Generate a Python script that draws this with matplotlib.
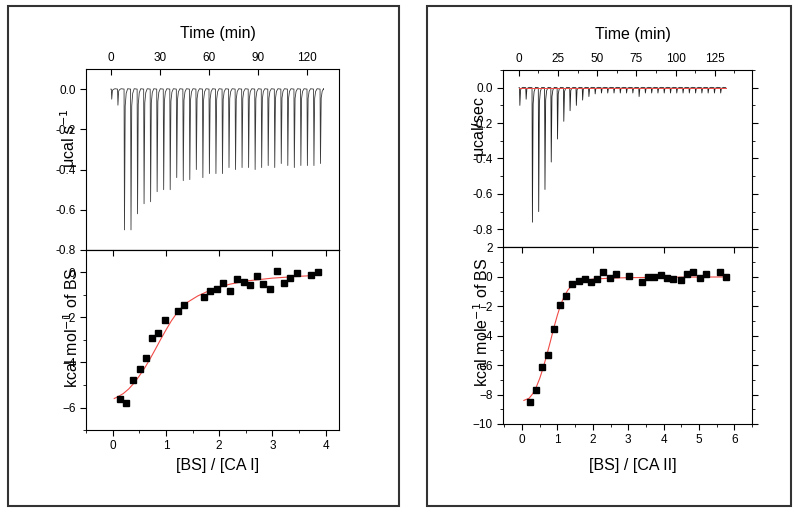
#ITC raw heats (top) and integrated heats with fit (bottom) for CA I and CA II
import numpy as np
import matplotlib
matplotlib.use("Agg")
import matplotlib.pyplot as plt
from matplotlib.patches import Rectangle
from matplotlib.ticker import MultipleLocator

plt.rcParams['font.family'] = ['Liberation Sans', 'DejaVu Sans']

#Raw thermogram, CA I: injection times (min) and peak depths (ucal/s)
inj_time_1 = [0.2, 4.0] + [8.0 + 4 * k for k in range(31)]
inj_depth_1 = [0.05, 0.08,
               0.70, 0.70, 0.62, 0.57, 0.56, 0.51, 0.50, 0.50, 0.44, 0.455,
               0.45, 0.40, 0.44, 0.42, 0.42, 0.42, 0.39, 0.40, 0.39, 0.39,
               0.40, 0.39, 0.38, 0.39, 0.37, 0.38, 0.39, 0.38, 0.38, 0.38, 0.37]

#Raw thermogram, CA II
inj_time_2 = [0.5 + 4 * k for k in range(33)]
inj_depth_2 = [0.10, 0.065, 0.76, 0.70, 0.575, 0.42, 0.29, 0.19, 0.13, 0.10,
               0.07, 0.05, 0.035, 0.03, 0.03, 0.03, 0.03, 0.03, 0.03, 0.05,
               0.03, 0.03, 0.03, 0.03, 0.03, 0.03, 0.03, 0.03, 0.03, 0.03,
               0.03, 0.03, 0.03]

#Integrated heats, CA I
ratio_1 = [0.13, 0.26, 0.38, 0.51, 0.62, 0.74, 0.86, 0.98, 1.22, 1.34, 1.71,
           1.83, 1.96, 2.08, 2.21, 2.33, 2.46, 2.58, 2.71, 2.83, 2.96, 3.08,
           3.21, 3.33, 3.47, 3.73, 3.85]
heat_1 = [-5.61, -5.79, -4.80, -4.28, -3.81, -2.93, -2.68, -2.13, -1.70,
          -1.44, -1.11, -0.83, -0.73, -0.47, -0.83, -0.31, -0.43, -0.56,
          -0.15, -0.50, -0.73, 0.06, -0.47, -0.25, -0.03, -0.12, 0.03]
fit_x_1 = [0.03, 0.1, 0.2, 0.3, 0.4, 0.5, 0.6, 0.7, 0.8, 0.9, 1.0, 1.1, 1.2,
           1.3, 1.4, 1.6, 1.8, 2.0, 2.2, 2.5, 3.0, 3.5, 3.9]
fit_y_1 = [-5.60, -5.52, -5.38, -5.18, -4.92, -4.60, -4.25, -3.85, -3.42,
           -2.98, -2.56, -2.16, -1.82, -1.55, -1.33, -1.04, -0.82, -0.65,
           -0.52, -0.38, -0.25, -0.17, -0.12]

#Integrated heats, CA II
ratio_2 = [0.21, 0.39, 0.56, 0.73, 0.91, 1.08, 1.25, 1.42, 1.60, 1.77, 1.95,
           2.12, 2.30, 2.48, 2.65, 3.02, 3.38, 3.56, 3.74, 3.92, 4.10, 4.28,
           4.48, 4.67, 4.84, 5.02, 5.21, 5.59, 5.77]
heat_2 = [-8.48, -7.69, -6.12, -5.31, -3.54, -1.93, -1.29, -0.48, -0.32,
          -0.16, -0.34, -0.16, 0.32, -0.11, 0.18, 0.02, -0.34, -0.05, -0.05,
          0.07, -0.11, -0.16, -0.23, 0.18, 0.32, -0.11, 0.18, 0.32, -0.02]
fit_x_2 = [0.05, 0.2, 0.3, 0.4, 0.5, 0.6, 0.7, 0.8, 0.9, 1.0, 1.1, 1.2, 1.3,
           1.4, 1.5, 1.7, 2.0, 2.5, 3.0, 4.0, 5.8]
fit_y_2 = [-8.40, -8.25, -7.95, -7.50, -6.90, -6.15, -5.30, -4.40, -3.45,
           -2.60, -1.85, -1.30, -0.90, -0.62, -0.45, -0.28, -0.18, -0.11,
           -0.08, -0.05, -0.03]


def thermogram(times, depths, t_end):
    #sharp downward spike at every injection, then quick recovery
    t, y = [times[0] - 0.3], [0.0]
    for ti, d in zip(times, depths):
        t += [ti, ti + 0.25, ti + 0.7, ti + 1.3, ti + 2.2]
        y += [0.0, -d, -0.12 * d, -0.03 * d, 0.002]
    t.append(t_end)
    y.append(0.0)
    return np.array(t), np.array(y)


def style_top(ax, xmaj, xmin, ymaj, ymin, right):
    ax.xaxis.tick_top()
    ax.xaxis.set_label_position('top')
    ax.xaxis.set_major_locator(MultipleLocator(xmaj))
    if xmin:
        ax.xaxis.set_minor_locator(MultipleLocator(xmin))
    ax.yaxis.set_major_locator(MultipleLocator(ymaj))
    if ymin:
        ax.yaxis.set_minor_locator(MultipleLocator(ymin))
    ax.tick_params(axis='x', which='both', direction='in', top=True, bottom=False)
    ax.tick_params(axis='y', which='both', direction='out', left=True, right=right)
    ax.tick_params(which='major', length=4, labelsize=8.5)
    ax.tick_params(which='minor', length=2.5)
    ax.yaxis.set_major_formatter(matplotlib.ticker.FormatStrFormatter('%.1f'))
    ax.set_xlabel('Time (min)', fontsize=11.5)


def style_bottom(ax, right):
    ax.xaxis.set_major_locator(MultipleLocator(1))
    ax.xaxis.set_minor_locator(MultipleLocator(0.5))
    ax.yaxis.set_major_locator(MultipleLocator(2))
    ax.yaxis.set_minor_locator(MultipleLocator(1))
    ax.tick_params(axis='x', which='both', direction='out', top=False, bottom=True)
    ax.tick_params(axis='y', which='both', direction='out', left=True, right=right)
    ax.tick_params(which='major', length=4, labelsize=8.5)
    ax.tick_params(which='minor', length=2.5)
    ax.secondary_xaxis('top').tick_params(which='both', direction='in', labeltop=False, length=4)


fig = plt.figure(figsize=(8, 5.11), dpi=100)

#Frames around the two panels
for x0, x1 in [(8, 399), (427, 791)]:
    fig.add_artist(Rectangle((x0 / 800, 1 - 506 / 511), (x1 - x0) / 800, 500 / 511,
                             transform=fig.transFigure, fill=False,
                             edgecolor='#333333', linewidth=1.5))

#Left: CA I
ax1 = fig.add_axes([86 / 800, 1 - 250 / 511, 253 / 800, 181 / 511])
t, y = thermogram(inj_time_1, inj_depth_1, 130)
ax1.plot(t, y, color='#3a3a3a', lw=0.6)
ax1.set_xlim(-15.3, 139.6)
ax1.set_ylim(-0.8, 0.1)
style_top(ax1, 30, None, 0.2, None, False)
ax1.xaxis.set_label_coords(0.52, 1.17)
ax1.set_ylabel(r'$\mathregular{\mu}$cal s$^{-1}$', fontsize=11.5)
ax1.yaxis.set_label_coords(-0.025, 0.62)

ax2 = fig.add_axes([86 / 800, 1 - 430 / 511, 253 / 800, 180 / 511])
ax2.plot(fit_x_1, fit_y_1, color='#f04a45', lw=0.8)
ax2.plot(ratio_1, heat_1, 's', color='black', markersize=4.5)
ax2.set_xlim(-0.5, 4.25)
ax2.set_ylim(-7, 1)
style_bottom(ax2, False)
ax2.set_xlabel('[BS] / [CA I]', fontsize=11.5)
ax2.xaxis.set_label_coords(0.52, -0.155)
ax2.set_ylabel('kcal mol$^{-1}$ of BS', fontsize=11.5)
ax2.yaxis.set_label_coords(-0.02, 0.57)

#Right: CA II
ax3 = fig.add_axes([503 / 800, 1 - 247 / 511, 249 / 800, 177 / 511])
t, y = thermogram(inj_time_2, inj_depth_2, 132)
ax3.plot(t, y, color='#222222', lw=0.6)
ax3.plot([0, 132], [0, 0], color='#f04a45', lw=0.7)
ax3.set_xlim(-10, 148.7)
ax3.set_ylim(-0.9, 0.1)
style_top(ax3, 25, 12.5, 0.2, 0.1, True)
ax3.xaxis.set_label_coords(0.52, 1.175)
ax3.set_ylabel(r'$\mathregular{\mu}$cal/sec', fontsize=11.5)
ax3.yaxis.set_label_coords(-0.058, 0.68)

ax4 = fig.add_axes([503 / 800, 1 - 424 / 511, 249 / 800, 177 / 511])
ax4.plot(fit_x_2, fit_y_2, color='#f04a45', lw=0.8)
ax4.plot(ratio_2, heat_2, 's', color='black', markersize=4.5)
ax4.set_xlim(-0.54, 6.5)
ax4.set_ylim(-10, 2)
style_bottom(ax4, True)
ax4.set_xlabel('[BS] / [CA II]', fontsize=11.5)
ax4.xaxis.set_label_coords(0.52, -0.19)
ax4.set_ylabel('kcal mole$^{-1}$ of BS', fontsize=11.5)
ax4.yaxis.set_label_coords(-0.05, 0.576)

plt.savefig("out.png", dpi=100)
plt.close()
